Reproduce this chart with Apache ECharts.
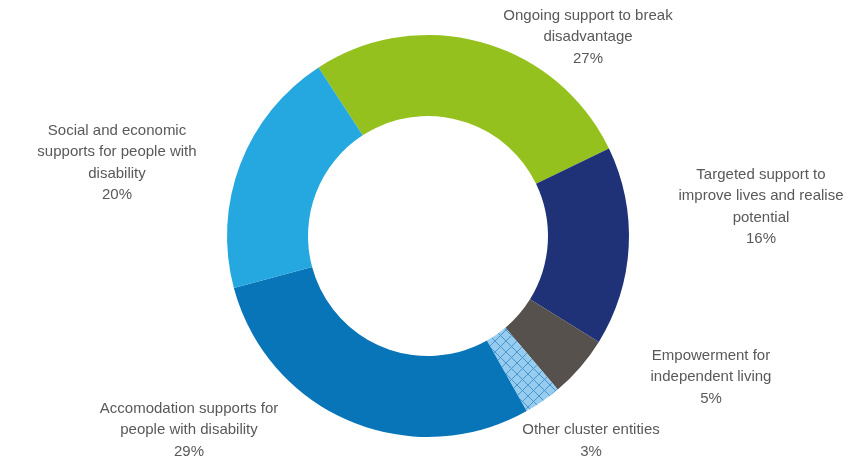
<!DOCTYPE html>
<html><head><meta charset="utf-8">
<script src="https://cdn.jsdelivr.net/npm/echarts@6/dist/echarts.min.js"></script>
<style>html,body{margin:0;padding:0;background:#fff}#c{width:868px;height:461px}</style>
</head><body><div id="c"></div>
<script>
var categories = [
  'Ongoing support to break\ndisadvantage',
  'Targeted support to\nimprove lives and realise\npotential',
  'Empowerment for\nindependent living',
  'Other cluster entities',
  'Accomodation supports for\npeople with disability',
  'Social and economic\nsupports for people with\ndisability'
];
var values = [27, 16, 5, 3, 29, 20];
var colors = ['#95C11F', '#1F3278', '#57514E', '#8EC6EC', '#0775B8', '#25A8E0'];
// label anchor positions (centre of text block)
var labelPos = [[588, 37], [761, 207], [711, 377], [591, 441], [189, 430], [117, 163]];

function hatch() {
  var c = document.createElement('canvas');
  c.width = 11; c.height = 11;
  var g = c.getContext('2d');
  g.fillStyle = '#98CCEF';
  g.fillRect(0, 0, 11, 11);
  g.strokeStyle = '#4595D3';
  g.lineWidth = 1;
  g.beginPath();
  g.moveTo(-1, -1); g.lineTo(12, 12);
  g.moveTo(12, -1); g.lineTo(-1, 12);
  g.stroke();
  return c;
}

var data = categories.map(function (n, i) {
  var d = { name: n, value: values[i], itemStyle: { color: colors[i] } };
  if (i === 3) d.itemStyle.color = { image: hatch(), repeat: 'repeat' };
  return d;
});

var chart = echarts.init(document.getElementById('c'));
chart.setOption({
  animation: false,
  series: [{
    type: 'pie',
    center: [428, 236],
    radius: [120, 201],
    startAngle: 123,
    clockwise: true,
    data: data,
    label: {
      show: true,
      position: 'outside',
      formatter: '{b}\n{c}%',
      color: '#595959',
      fontFamily: '"Liberation Sans", Arial, sans-serif',
      fontSize: 15,
      lineHeight: 21.5,
      align: 'center',
      overflow: 'none'
    },
    labelLine: { show: false },
    labelLayout: function (p) {
      var pos = labelPos[p.dataIndex];
      return { x: pos[0], y: pos[1], align: 'center', verticalAlign: 'middle' };
    },
    emphasis: { disabled: true }
  }]
});
</script></body></html>
